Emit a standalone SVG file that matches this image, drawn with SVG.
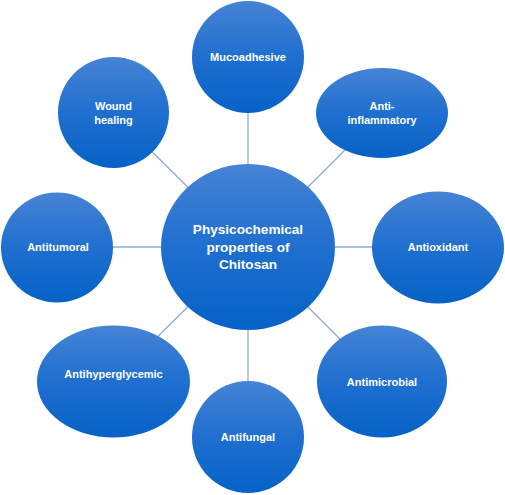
<svg xmlns="http://www.w3.org/2000/svg" width="505" height="495" viewBox="0 0 505 495">
<defs>
<linearGradient id="g" x1="0" y1="0" x2="0" y2="1">
<stop offset="0" stop-color="#4683d4"/>
<stop offset="0.5" stop-color="#1f6fd0"/>
<stop offset="1" stop-color="#0562c6"/>
</linearGradient>
<style>
.n{fill:url(#g);}
.t{fill:#ffffff;font-family:"Liberation Sans",Arial,sans-serif;font-weight:bold;font-size:11px;text-anchor:middle;}
.c{font-size:13.6px;}
.l{stroke:#8eaad2;stroke-width:1.3;fill:none;}
</style>
</defs>
<rect width="505" height="495" fill="#ffffff"/>
<g id="connectors">
<line class="l" x1="248" y1="247" x2="248" y2="57"/>
<line class="l" x1="248" y1="247" x2="382" y2="113"/>
<line class="l" x1="248" y1="247" x2="438" y2="247"/>
<line class="l" x1="248" y1="247" x2="382" y2="381"/>
<line class="l" x1="248" y1="247" x2="248" y2="437"/>
<line class="l" x1="248" y1="247" x2="113" y2="381"/>
<line class="l" x1="248" y1="247" x2="57" y2="247"/>
<line class="l" x1="248" y1="247" x2="113" y2="113"/>
</g>
<g id="center">
<ellipse class="n" cx="248" cy="247" rx="87" ry="83"/>
<text class="t c" x="248" y="234">Physicochemical</text>
<text class="t c" x="248" y="251.5">properties of</text>
<text class="t c" x="248" y="269">Chitosan</text>
</g>
<g id="mucoadhesive">
<ellipse class="n" cx="248" cy="57" rx="56" ry="56"/>
<text class="t" x="248" y="61">Mucoadhesive</text>
</g>
<g id="anti-inflammatory">
<ellipse class="n" cx="382" cy="113" rx="66" ry="45"/>
<text class="t" x="382" y="110">Anti-</text>
<text class="t" x="382" y="123.5">inflammatory</text>
</g>
<g id="antioxidant">
<ellipse class="n" cx="438" cy="247.5" rx="66" ry="56"/>
<text class="t" x="438" y="251">Antioxidant</text>
</g>
<g id="antimicrobial">
<ellipse class="n" cx="382" cy="381.5" rx="65" ry="56"/>
<text class="t" x="382" y="386">Antimicrobial</text>
</g>
<g id="antifungal">
<ellipse class="n" cx="248" cy="437" rx="56" ry="56"/>
<text class="t" x="248" y="441">Antifungal</text>
</g>
<g id="antihyperglycemic">
<ellipse class="n" cx="113.5" cy="381.5" rx="76.5" ry="56"/>
<text class="t" x="113.5" y="378">Antihyperglycemic</text>
</g>
<g id="antitumoral">
<ellipse class="n" cx="57" cy="247.5" rx="56" ry="55"/>
<text class="t" x="58" y="251">Antitumoral</text>
</g>
<g id="wound-healing">
<ellipse class="n" cx="113.5" cy="112.5" rx="55.5" ry="55.5"/>
<text class="t" x="113.5" y="110">Wound</text>
<text class="t" x="113.5" y="123.5">healing</text>
</g>
</svg>
